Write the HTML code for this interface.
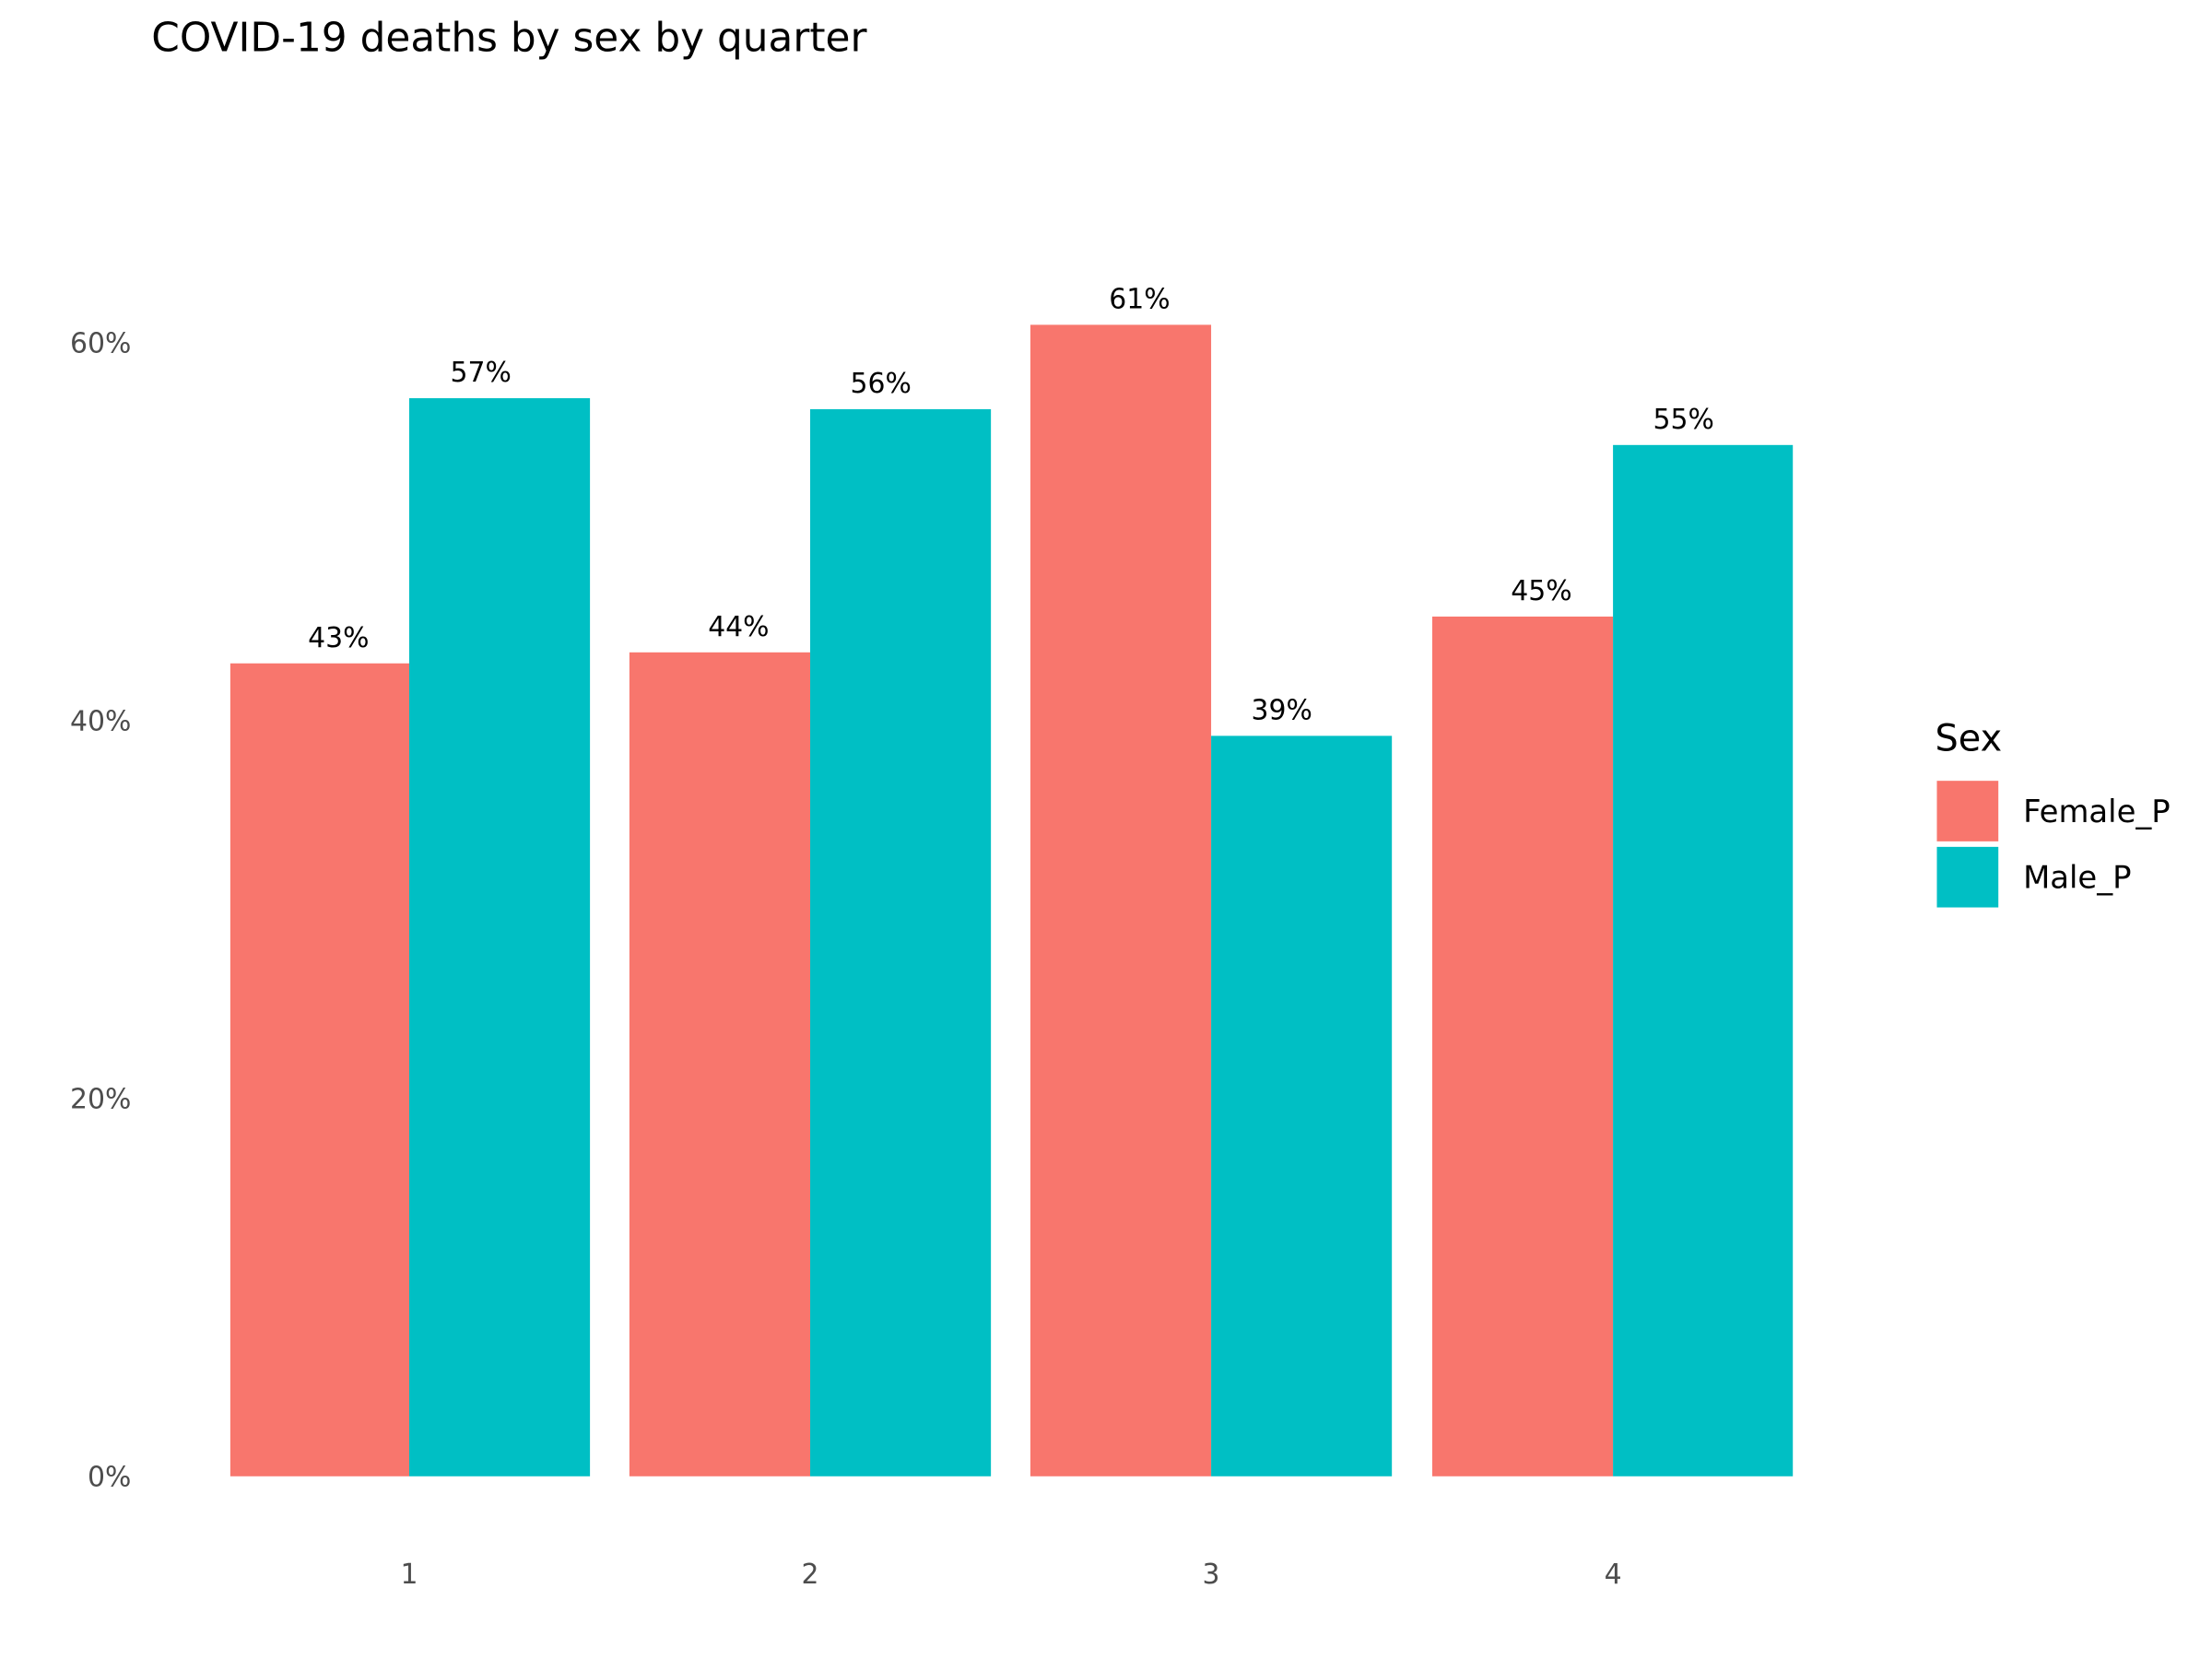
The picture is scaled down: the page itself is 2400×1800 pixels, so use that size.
<!DOCTYPE html>
<html><head><style>
body{margin:0;background:#fff;}
svg{display:block;font-family:"DejaVu Sans","Liberation Sans",sans-serif;}
</style></head><body>
<svg width="2400" height="1800" viewBox="0 0 2400 1800">
<g transform="scale(0.9955)">
<text x="165" y="56" font-size="44" fill="#000">COVID-19 deaths by sex by quarter</text>
<g font-size="30" fill="#4d4d4d" text-anchor="end">
<text x="143" y="1620">0%</text>
<text x="143" y="1208">20%</text>
<text x="143" y="796">40%</text>
<text x="143" y="384">60%</text>
</g>
<g fill="#F8766D">
<rect x="251" y="723" width="195" height="886"/>
<rect x="686" y="711" width="197" height="898"/>
<rect x="1123" y="354" width="197" height="1255"/>
<rect x="1561" y="672" width="197" height="937"/>
</g>
<g fill="#00BFC4">
<rect x="446" y="434" width="197" height="1175"/>
<rect x="883" y="446" width="197" height="1163"/>
<rect x="1320" y="802" width="197" height="807"/>
<rect x="1758" y="485" width="196" height="1124"/>
</g>
<g font-size="30" fill="#000" text-anchor="middle">
<text x="369" y="705">43%</text>
<text x="524" y="416">57%</text>
<text x="805" y="693">44%</text>
<text x="960" y="428">56%</text>
<text x="1242" y="336">61%</text>
<text x="1397" y="784">39%</text>
<text x="1680" y="654">45%</text>
<text x="1835" y="467">55%</text>
</g>
<g font-size="30" fill="#4d4d4d" text-anchor="middle">
<text x="446" y="1726">1</text>
<text x="883" y="1726">2</text>
<text x="1320" y="1726">3</text>
<text x="1758" y="1726">4</text>
</g>
<text x="2109" y="818" font-size="40" fill="#000">Sex</text>
<rect x="2111" y="851" width="67" height="66" fill="#F8766D"/>
<rect x="2111" y="923" width="67" height="66" fill="#00BFC4"/>
<g font-size="34" fill="#000">
<text x="2205" y="896">Female_P</text>
<text x="2205" y="968">Male_P</text>
</g>
</g>
</svg>
</body></html>
